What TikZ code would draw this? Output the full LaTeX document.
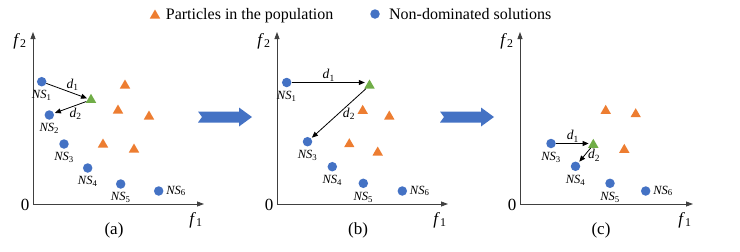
\documentclass[tikz,border=0pt]{standalone}
\usepackage{fontspec}
\setmainfont{Liberation Serif}
\usepackage{xcolor}
\usepackage{tikz}
\usetikzlibrary{shapes.geometric,arrows.meta,positioning,calc}

\definecolor{ndblue}{HTML}{4472C4}
\definecolor{ptorange}{HTML}{ED7D31}
\definecolor{ldgreen}{HTML}{70AD47}
\definecolor{axgray}{HTML}{404040}

\newcommand{\ns}[1]{\textit{NS}\textsubscript{#1}}
\newcommand{\itsub}[2]{\textit{#1}\textsubscript{#2}}

\begin{document}
\begin{tikzpicture}[
    x=1pt, y=-1pt,
    nd/.style={circle, fill=ndblue, inner sep=0pt, minimum size=9.5pt},
    particle/.style={regular polygon, regular polygon sides=3, fill=ptorange, inner sep=0pt, minimum size=12pt, yshift=-1.5pt},
    chosen/.style={particle, fill=ldgreen},
    nslab/.style={font=\fontsize{12.5}{13}\selectfont, inner sep=0.5pt},
    dlab/.style={font=\fontsize{13.5}{14}\selectfont, inner sep=1pt},
    flab/.style={font=\fontsize{17}{19}\selectfont, inner sep=0pt},
    legtxt/.style={font=\fontsize{16}{18}\selectfont, inner sep=1pt},
    axis/.style={draw=axgray, line width=0.8pt, -{Triangle[length=7pt,width=5pt]}},
    dist/.style={draw=black, line width=0.8pt, -{Triangle[length=6pt,width=5pt]}, shorten >=1pt},
    bigarrow/.style={fill=ndblue}
]
    \useasboundingbox (0,0) rectangle (740,252);

    % Legend
    \node[particle] (legp) at (155,14) {};
    \node[legtxt, right=6pt of legp] (legptxt) {Particles in the population};
    \node[nd] (legn) at (375,14) {};
    \node[legtxt, right=8pt of legn] (legntxt) {Non-dominated solutions};

    % ==================== AXES ====================
    \foreach \p/\ox/\xe in {a/33/204, b/277/448, c/520/693} {
        \coordinate (o\p) at (\ox,204);
        \coordinate (y\p) at (\ox,32);
        \coordinate (x\p) at (\xe,204);
        \draw[axis] (o\p) -- (y\p);
        \draw[axis] (o\p) -- (x\p);
        \node[flab] (zero\p) at ($(o\p)+(-8,1)$) {0};
        \node[flab] (f2\p) at ($(y\p)+(-13,9)$) {\itsub{f}{2}};
        \node[flab] (f1\p) at ($(x\p)+(-8,16)$) {\itsub{f}{1}};
        \node[flab] (tag\p) at ($(o\p)+(81,26)$) {(\p)};
    }

    % Blue arrows between the panels
    \foreach \ax in {198,440} {
        \fill[bigarrow] (\ax,111.5) -- (\ax+41,111.5) -- (\ax+41,107.5) -- (\ax+54,117)
            -- (\ax+41,126.5) -- (\ax+41,122.5) -- (\ax,122.5) -- (\ax+4,117) -- cycle;
    }

    % ==================== PANEL (a) ====================
    \node[nd] (nsa1) at (41.7,81.7) {};
    \node[nd] (nsa2) at (49.3,115) {};
    \node[nd] (nsa3) at (64,144) {};
    \node[nd] (nsa4) at (87.7,168) {};
    \node[nd] (nsa5) at (120.7,184) {};
    \node[nd] (nsa6) at (158.7,191) {};
    \node[nslab, below=3pt of nsa1] (la1) {\ns{1}};
    \node[nslab, below=3pt of nsa2] (la2) {\ns{2}};
    \node[nslab, below=3pt of nsa3] (la3) {\ns{3}};
    \node[nslab, below=3pt of nsa4] (la4) {\ns{4}};
    \node[nslab, below=3pt of nsa5] (la5) {\ns{5}};
    \node[nslab, right=2pt of nsa6] (la6) {\ns{6}};
    \node[particle] (pa1) at (125,84) {};
    \node[particle] (pa2) at (118,109) {};
    \node[particle] (pa3) at (149,115) {};
    \node[particle] (pa4) at (103,143) {};
    \node[particle] (pa5) at (134,148) {};
    \node[chosen] (ga) at (91,98.3) {};
    \draw[dist] (nsa1) -- node[dlab, above right=-1pt and -2pt] (d1a) {\itsub{d}{1}} (ga);
    \draw[dist] (ga) -- node[dlab, below right=-1pt and -2pt] (d2a) {\itsub{d}{2}} (nsa2);

    % ==================== PANEL (b) ====================
    \node[nd] (nsb1) at (286.7,82.5) {};
    \node[nd] (nsb3) at (307.5,141.7) {};
    \node[nd] (nsb4) at (332.3,166.7) {};
    \node[nd] (nsb5) at (363.3,183.3) {};
    \node[nd] (nsb6) at (402.3,191) {};
    \node[nslab, below=3pt of nsb1] (lb1) {\ns{1}};
    \node[nslab, below=3pt of nsb3] (lb3) {\ns{3}};
    \node[nslab, below=3pt of nsb4] (lb4) {\ns{4}};
    \node[nslab, below=3pt of nsb5] (lb5) {\ns{5}};
    \node[nslab, right=2pt of nsb6] (lb6) {\ns{6}};
    \node[particle] (pb1) at (362.7,109.3) {};
    \node[particle] (pb2) at (389.3,115) {};
    \node[particle] (pb3) at (349.3,142.7) {};
    \node[particle] (pb4) at (377.7,151) {};
    \node[chosen] (gb) at (369.5,84) {};
    \draw[dist] (nsb1) -- node[dlab, above] (d1b) {\itsub{d}{1}} (nsb1 -| gb.west);
    \draw[dist] (gb) -- node[dlab, right=3pt] (d2b) {\itsub{d}{2}} (nsb3);

    % ==================== PANEL (c) ====================
    \node[nd] (nsc3) at (551,143.5) {};
    \node[nd] (nsc4) at (575.5,166.3) {};
    \node[nd] (nsc5) at (610,183.3) {};
    \node[nd] (nsc6) at (645.7,191) {};
    \node[nslab, below=3pt of nsc3] (lc3) {\ns{3}};
    \node[nslab, below=3pt of nsc4] (lc4) {\ns{4}};
    \node[nslab, below=3pt of nsc5] (lc5) {\ns{5}};
    \node[nslab, right=2pt of nsc6] (lc6) {\ns{6}};
    \node[particle] (pc1) at (605.7,109.3) {};
    \node[particle] (pc2) at (635.7,112.7) {};
    \node[particle] (pc3) at (624.3,148.3) {};
    \node[chosen] (gc) at (593.3,143.3) {};
    \draw[dist] (nsc3) -- node[dlab, above] (d1c) {\itsub{d}{1}} (nsc3 -| gc.west);
    \draw[dist] (gc) -- node[dlab, right=2pt] (d2c) {\itsub{d}{2}} (nsc4);

\end{tikzpicture}
\end{document}
